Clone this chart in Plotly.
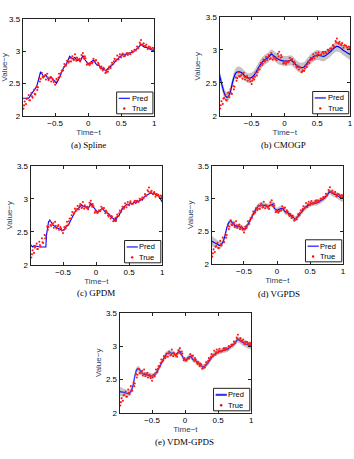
import plotly.graph_objects as go

# ---------------- data ----------------
true_t = [-0.98, -0.96, -0.94, -0.92, -0.90, -0.88, -0.86, -0.84, -0.82, -0.80,
          -0.78, -0.76, -0.74, -0.72, -0.70, -0.68, -0.66, -0.64, -0.62, -0.60,
          -0.58, -0.56, -0.54, -0.52, -0.50, -0.48, -0.46, -0.44, -0.42, -0.40,
          -0.38, -0.36, -0.34, -0.32, -0.30, -0.28, -0.26, -0.24, -0.22, -0.20,
          -0.18, -0.16, -0.14, -0.12, -0.10, -0.08, -0.06, -0.04, -0.02, 0.00,
          0.02, 0.04, 0.06, 0.08, 0.10, 0.12, 0.14, 0.16, 0.18, 0.20,
          0.22, 0.24, 0.26, 0.28, 0.30, 0.32, 0.34, 0.36, 0.38, 0.40,
          0.42, 0.44, 0.46, 0.48, 0.50, 0.52, 0.54, 0.56, 0.58, 0.60,
          0.62, 0.64, 0.66, 0.68, 0.70, 0.72, 0.74, 0.76, 0.78, 0.80,
          0.82, 0.84, 0.86, 0.88, 0.90, 0.92, 0.94, 0.96, 0.98, 1.00,
          -0.97, -0.93, -0.89, -0.85, -0.81, -0.77, -0.73, -0.69, -0.65, -0.61,
          -0.57, -0.53, -0.49, -0.45, -0.41, -0.37, -0.33, -0.29, -0.25, -0.21,
          -0.17, -0.13, -0.09, -0.05, -0.01, 0.03, 0.07, 0.11, 0.15, 0.19,
          0.23, 0.27, 0.31, 0.35, 0.39, 0.43, 0.47, 0.51, 0.55, 0.59,
          0.63, 0.67, 0.71, 0.75, 0.79, 0.83, 0.87, 0.91, 0.95, 0.99]
true_y = [2.11, 2.22, 2.18, 2.27, 2.32, 2.24, 2.35, 2.28, 2.40, 2.33,
          2.45, 2.44, 2.58, 2.57, 2.66, 2.59, 2.61, 2.56, 2.65, 2.55,
          2.58, 2.53, 2.57, 2.52, 2.48, 2.57, 2.55, 2.65, 2.61, 2.70,
          2.70, 2.80, 2.77, 2.85, 2.82, 2.89, 2.84, 2.92, 2.86, 2.95,
          2.85, 2.88, 2.86, 2.84, 2.94, 2.97, 2.88, 2.89, 2.79, 2.80,
          2.78, 2.82, 2.81, 2.88, 2.85, 2.86, 2.78, 2.80, 2.75, 2.76,
          2.70, 2.73, 2.66, 2.69, 2.68, 2.76, 2.74, 2.82, 2.80, 2.88,
          2.85, 2.93, 2.87, 2.95, 2.90, 2.96, 2.92, 2.93, 2.96, 2.94,
          2.97, 2.95, 3.00, 2.99, 3.02, 3.01, 3.07, 3.05, 3.13, 3.17,
          3.10, 3.12, 3.08, 3.10, 3.03, 3.07, 3.06, 3.03, 3.05, 3.04,
          2.16, 2.26, 2.24, 2.30, 2.34, 2.40, 2.53, 2.60, 2.63, 2.59,
          2.60, 2.55, 2.53, 2.59, 2.66, 2.75, 2.79, 2.84, 2.89, 2.87,
          2.90, 2.88, 2.90, 2.92, 2.82, 2.80, 2.83, 2.85, 2.82, 2.73,
          2.74, 2.67, 2.72, 2.78, 2.84, 2.87, 2.91, 2.93, 2.92, 2.97,
          2.96, 2.98, 3.02, 3.04, 3.11, 3.09, 3.07, 3.06, 3.04, 3.02]

spline_t = [-0.99, -0.90, -0.85, -0.78, -0.72, -0.67, -0.64, -0.60, -0.56, -0.50,
            -0.48, -0.43, -0.37, -0.33, -0.28, -0.24, -0.20, -0.17, -0.14, -0.12,
            -0.08, -0.05, 0.00, 0.03, 0.08, 0.12, 0.16, 0.22, 0.27, 0.30,
            0.36, 0.42, 0.48, 0.52, 0.60, 0.65, 0.70, 0.75, 0.80, 0.85,
            0.90, 0.95, 1.00]
spline_y = [2.27, 2.27, 2.35, 2.45, 2.68, 2.60, 2.63, 2.56, 2.60, 2.52,
            2.50, 2.60, 2.75, 2.80, 2.92, 2.88, 2.90, 2.85, 2.87, 2.84,
            2.93, 2.87, 2.80, 2.82, 2.86, 2.80, 2.78, 2.72, 2.70, 2.73,
            2.78, 2.85, 2.92, 2.95, 2.95, 2.97, 3.00, 3.05, 3.10, 3.06,
            3.05, 3.02, 3.00]

cmogp_t = [-0.99, -0.94, -0.90, -0.87, -0.83, -0.78, -0.74, -0.70, -0.65, -0.60,
           -0.55, -0.50, -0.45, -0.40, -0.35, -0.30, -0.25, -0.20, -0.15, -0.10,
           -0.05, 0.00, 0.05, 0.10, 0.15, 0.20, 0.25, 0.30, 0.35, 0.40,
           0.45, 0.50, 0.55, 0.60, 0.65, 0.70, 0.75, 0.80, 0.85, 0.90,
           0.95, 1.00]
cmogp_y = [2.62, 2.42, 2.30, 2.28, 2.35, 2.55, 2.65, 2.67, 2.65, 2.60,
           2.57, 2.58, 2.63, 2.72, 2.80, 2.85, 2.88, 2.93, 2.90, 2.86,
           2.84, 2.83, 2.83, 2.84, 2.80, 2.75, 2.73, 2.74, 2.80, 2.86,
           2.90, 2.92, 2.91, 2.90, 2.93, 2.97, 3.02, 3.05, 3.03, 2.99,
           2.96, 2.93]
cmogp_sd = [0.08, 0.08, 0.075, 0.075, 0.075, 0.075, 0.075, 0.075, 0.075, 0.075,
            0.075, 0.075, 0.075, 0.075, 0.075, 0.075, 0.075, 0.075, 0.075, 0.075,
            0.075, 0.075, 0.075, 0.075, 0.075, 0.075, 0.075, 0.075, 0.075, 0.075,
            0.075, 0.075, 0.075, 0.075, 0.075, 0.075, 0.075, 0.075, 0.075, 0.075,
            0.08, 0.08]

gpdm_t = [-0.99, -0.96, -0.94, -0.90, -0.85, -0.80, -0.76, -0.75, -0.74, -0.72,
          -0.70, -0.68, -0.65, -0.62, -0.60, -0.57, -0.54, -0.51, -0.48, -0.45,
          -0.42, -0.40, -0.37, -0.35, -0.32, -0.30, -0.27, -0.24, -0.22, -0.20,
          -0.17, -0.14, -0.12, -0.10, -0.08, -0.06, -0.04, -0.02, 0.00, 0.02,
          0.05, 0.08, 0.10, 0.12, 0.15, 0.18, 0.20, 0.23, 0.26, 0.28,
          0.29, 0.30, 0.32, 0.35, 0.38, 0.40, 0.42, 0.45, 0.47, 0.50,
          0.52, 0.55, 0.58, 0.60, 0.62, 0.65, 0.68, 0.70, 0.73, 0.76,
          0.80, 0.83, 0.86, 0.88, 0.90, 0.93, 0.96, 0.98, 1.00]
gpdm_y = [2.30, 2.27, 2.29, 2.28, 2.27, 2.27, 2.27, 2.45, 2.55, 2.65,
          2.68, 2.64, 2.60, 2.58, 2.56, 2.55, 2.54, 2.52, 2.53, 2.58,
          2.60, 2.64, 2.70, 2.76, 2.80, 2.83, 2.85, 2.88, 2.91, 2.89,
          2.88, 2.87, 2.85, 2.90, 2.93, 2.90, 2.87, 2.84, 2.82, 2.80,
          2.82, 2.84, 2.86, 2.82, 2.79, 2.78, 2.75, 2.72, 2.70, 2.66,
          2.72, 2.65, 2.73, 2.75, 2.82, 2.85, 2.88, 2.90, 2.92, 2.91,
          2.94, 2.92, 2.95, 2.93, 2.97, 2.96, 3.00, 2.98, 3.03, 3.05,
          3.07, 3.09, 3.07, 3.10, 3.06, 3.05, 3.02, 2.97, 2.95]

vgpds_t = [-0.99, -0.94, -0.90, -0.86, -0.82, -0.79, -0.76, -0.73, -0.70, -0.67,
           -0.63, -0.58, -0.53, -0.49, -0.46, -0.43, -0.39, -0.35, -0.31, -0.27,
           -0.22, -0.17, -0.13, -0.10, -0.07, -0.04, 0.00, 0.04, 0.08, 0.12,
           0.16, 0.20, 0.24, 0.28, 0.32, 0.36, 0.40, 0.45, 0.50, 0.55,
           0.60, 0.65, 0.70, 0.75, 0.80, 0.85, 0.90, 0.95, 1.00]
vgpds_y = [2.35, 2.32, 2.30, 2.28, 2.33, 2.42, 2.55, 2.63, 2.65, 2.62,
           2.58, 2.57, 2.55, 2.53, 2.57, 2.62, 2.70, 2.78, 2.85, 2.89,
           2.90, 2.89, 2.88, 2.90, 2.91, 2.85, 2.82, 2.84, 2.85, 2.80,
           2.78, 2.75, 2.71, 2.69, 2.73, 2.78, 2.83, 2.88, 2.91, 2.93,
           2.93, 2.96, 2.99, 3.04, 3.10, 3.07, 3.05, 3.02, 3.00]
vgpds_sd = [0.08, 0.07, 0.06, 0.05, 0.045, 0.04, 0.04, 0.04, 0.04, 0.04,
            0.04, 0.04, 0.04, 0.04, 0.04, 0.04, 0.04, 0.04, 0.04, 0.04,
            0.04, 0.04, 0.04, 0.04, 0.04, 0.04, 0.04, 0.04, 0.04, 0.04,
            0.04, 0.04, 0.04, 0.04, 0.04, 0.04, 0.04, 0.04, 0.04, 0.04,
            0.04, 0.04, 0.04, 0.04, 0.04, 0.045, 0.045, 0.05, 0.05]

vdm_t = [-0.99, -0.94, -0.90, -0.86, -0.82, -0.79, -0.76, -0.73, -0.70, -0.67,
         -0.63, -0.58, -0.53, -0.49, -0.46, -0.43, -0.39, -0.35, -0.31, -0.27,
         -0.22, -0.17, -0.14, -0.11, -0.08, -0.05, -0.02, 0.01, 0.04, 0.08,
         0.12, 0.16, 0.20, 0.24, 0.28, 0.32, 0.36, 0.40, 0.45, 0.50,
         0.55, 0.60, 0.65, 0.70, 0.75, 0.80, 0.85, 0.90, 0.95, 1.00]
vdm_y = [2.32, 2.31, 2.30, 2.29, 2.32, 2.40, 2.55, 2.65, 2.66, 2.62,
         2.58, 2.57, 2.56, 2.55, 2.57, 2.61, 2.68, 2.76, 2.84, 2.89,
         2.90, 2.89, 2.86, 2.90, 2.92, 2.87, 2.81, 2.79, 2.82, 2.85,
         2.80, 2.78, 2.75, 2.71, 2.69, 2.72, 2.77, 2.83, 2.88, 2.91,
         2.93, 2.94, 2.96, 3.00, 3.04, 3.10, 3.07, 3.04, 3.02, 3.00]
vdm_sd = [0.07, 0.06, 0.05, 0.045, 0.04, 0.04, 0.04, 0.04, 0.04, 0.04,
          0.04, 0.04, 0.04, 0.04, 0.04, 0.04, 0.04, 0.04, 0.04, 0.04,
          0.04, 0.04, 0.04, 0.04, 0.04, 0.04, 0.04, 0.04, 0.04, 0.04,
          0.04, 0.04, 0.04, 0.04, 0.04, 0.04, 0.04, 0.04, 0.04, 0.04,
          0.04, 0.04, 0.04, 0.04, 0.04, 0.045, 0.045, 0.05, 0.05, 0.05]

captions = ["(a) Spline", "(b) CMOGP", "(c) GPDM", "(d) VGPDS", "(e) VDM-GPDS"]
x_ticks = [-0.5, 0, 0.5, 1]
x_ticktext = ["\u22120.5", "0", "0.5", "1"]
y_ticks = [2, 2.5, 3, 3.5]
y_ticktext = ["2", "2.5", "3", "3.5"]
x_title = "Time\u2212t"
y_title = "Value\u2212y"

# ---------------- layout geometry ----------------
W, H = 354, 459
# plot boxes in pixels: (left, right, top, bottom)
boxes = [(22, 155, 15, 114), (221, 353, 13, 114), (30, 163, 165, 266),
         (213, 346, 165, 265), (120, 253, 315, 417)]
cap_pos = [(88, 144), (286, 144), (96, 295), (281, 296), (186, 447)]

panels = [
    dict(t=spline_t, y=spline_y, sd=None, shape="linear", lc="#0000ff", lw=1.1),
    dict(t=cmogp_t, y=cmogp_y, sd=cmogp_sd, shape="spline", lc="#0000ff", lw=1.2),
    dict(t=gpdm_t, y=gpdm_y, sd=None, shape="linear", lc="#0000ff", lw=1.1),
    dict(t=vgpds_t, y=vgpds_y, sd=vgpds_sd, shape="spline", lc="#0000ff", lw=1.1),
    dict(t=vdm_t, y=vdm_y, sd=vdm_sd, shape="spline", lc="#3333ee", lw=1.3),
]

FONT = "Liberation Sans"
fig = go.Figure()
shapes = []
annotations = []

for i, p in enumerate(panels):
    n = "" if i == 0 else str(i + 1)
    xa, ya = "x" + n, "y" + n
    l, r, t, b = boxes[i]
    if p["sd"] is not None:
        up = [v + s for v, s in zip(p["y"], p["sd"])]
        lo = [v - s for v, s in zip(p["y"], p["sd"])]
        fig.add_trace(go.Scatter(x=p["t"] + p["t"][::-1], y=up + lo[::-1],
                                 fill="toself", fillcolor="rgb(196,196,196)",
                                 line=dict(width=0, shape=p["shape"]), mode="lines",
                                 hoverinfo="skip", showlegend=False, xaxis=xa, yaxis=ya))
    fig.add_trace(go.Scatter(x=p["t"], y=p["y"], mode="lines",
                             line=dict(color=p["lc"], width=p["lw"], shape=p["shape"]),
                             showlegend=False, xaxis=xa, yaxis=ya))
    fig.add_trace(go.Scatter(x=true_t, y=true_y, mode="markers",
                             marker=dict(color="#ff1a1a", size=2.1, line=dict(width=0)),
                             showlegend=False, xaxis=xa, yaxis=ya))

    axis_common = dict(showline=True, linecolor="#222", linewidth=1, mirror="ticks",
                       ticks="inside", ticklen=3, tickcolor="#222", showgrid=False,
                       zeroline=False, tickfont=dict(family=FONT, size=8, color="#000"))
    fig.layout["xaxis" + n] = dict(domain=[l / W, r / W], anchor=ya, range=[-0.99, 1.0],
                                   tickvals=x_ticks, ticktext=x_ticktext,
                                   title=dict(text=x_title, font=dict(family=FONT, size=8),
                                              standoff=1),
                                   **axis_common)
    fig.layout["yaxis" + n] = dict(domain=[1 - b / H, 1 - t / H], anchor=xa, range=[2, 3.5],
                                   tickvals=y_ticks, ticktext=y_ticktext,
                                   title=dict(text=y_title, font=dict(family=FONT, size=8),
                                              standoff=3),
                                   **axis_common)

    # custom legend box
    xd, yd = xa + " domain", ya + " domain"
    shapes.append(dict(type="rect", xref=xd, yref=yd, x0=0.714, x1=0.99, y0=0.02, y1=0.245,
                       line=dict(color="#222", width=1), fillcolor="white", layer="above"))
    shapes.append(dict(type="line", xref=xd, yref=yd, x0=0.73, x1=0.815, y0=0.18, y1=0.18,
                       line=dict(color=p["lc"], width=p["lw"] + (0.8 if i == 4 else 0)),
                       layer="above"))
    shapes.append(dict(type="circle", xref=xd, yref=yd, xsizemode="pixel", ysizemode="pixel",
                       xanchor=0.772, yanchor=0.075, x0=-1.2, x1=1.2, y0=-1.2, y1=1.2,
                       fillcolor="#ff0000", line=dict(width=0), layer="above"))
    annotations.append(dict(xref=xd, yref=yd, x=0.82, y=0.18, text="Pred", showarrow=False,
                            xanchor="left", yanchor="middle", borderpad=0,
                            font=dict(family=FONT, size=7.5, color="#000")))
    annotations.append(dict(xref=xd, yref=yd, x=0.82, y=0.075, text="True", showarrow=False,
                            xanchor="left", yanchor="middle", borderpad=0,
                            font=dict(family=FONT, size=7.5, color="#000")))
    cx, cy = cap_pos[i]
    annotations.append(dict(xref="paper", yref="paper", x=cx / W, y=1 - cy / H,
                            text=captions[i], showarrow=False, xanchor="center",
                            yanchor="middle",
                            font=dict(family="Liberation Serif", size=9, color="#000")))

fig.update_layout(width=W, height=H, margin=dict(l=0, r=0, t=0, b=0),
                  paper_bgcolor="white", plot_bgcolor="white",
                  shapes=shapes, annotations=annotations, showlegend=False)
fig.write_html("out.html")
